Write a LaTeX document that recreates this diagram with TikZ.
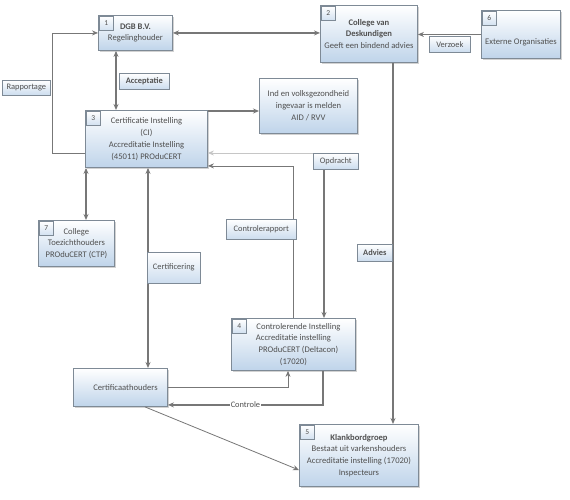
\documentclass[tikz,border=0pt]{standalone}
\usepackage{fontspec}
\setmainfont{Carlito}
\usetikzlibrary{calc,shadows,arrows.meta}
\definecolor{txt}{HTML}{505050}
\definecolor{ln}{HTML}{777777}
\definecolor{bd}{HTML}{7E8A96}
\definecolor{fillb}{HTML}{BFD4EA}
\tikzset{
  box/.style={draw=bd, line width=0.9pt, top color=white, bottom color=fillb,
    drop shadow={shadow xshift=1.5pt, shadow yshift=-1.5pt, opacity=0.35, fill=gray},
    inner sep=0pt, align=center, text=txt, font=\fontsize{8.6}{11.8}\selectfont, anchor=north west},
  numtag/.style={draw=bd, line width=0.6pt, top color=white, bottom color=fillb!70,
    minimum size=14pt, inner sep=0pt, text=txt, font=\fontsize{7.5}{9}\selectfont, anchor=north west},
  lab/.style={draw=bd, line width=0.6pt, top color=white, bottom color=fillb!80,
    drop shadow={shadow xshift=1pt, shadow yshift=-1pt, opacity=0.3, fill=gray},
    inner sep=0pt, text=txt, font=\fontsize{8.4}{10}\selectfont, anchor=north west},
  tip/.style={-{Stealth[length=6pt,width=5pt]}},
  tips/.style={{Stealth[length=6pt,width=5pt]}-{Stealth[length=6pt,width=5pt]}},
  heavy/.style={draw=ln, line width=1.8pt},
  medium/.style={draw=ln, line width=1.3pt},
  light/.style={draw=ln, line width=0.8pt},
  faint/.style={draw=gray!45, line width=0.8pt},
}
\begin{document}
\begin{tikzpicture}[x=1pt,y=-1pt]
\useasboundingbox[fill=white] (0,0) rectangle (570,500);

% boxes
\node[box, minimum width=74pt, minimum height=35pt] (b1) at (98,15) {\textbf{DGB B.V.}\\Regelinghouder};
\node[numtag] (n1) at (99,16) {1};
\node[box, minimum width=97pt, minimum height=57pt] (b2) at (320,5) {\textbf{College van}\\\textbf{Deskundigen}\\Geeft een bindend advies};
\node[numtag] (n2) at (321,6) {2};
\node[box, minimum width=79pt, minimum height=48pt] (b6) at (481,10) {};
\node[text=txt, font=\fontsize{8.6}{10}\selectfont] (t6) at (521,42) {Externe Organisaties};
\node[numtag] (n6) at (482,11) {6};
\node[box, minimum width=122pt, minimum height=57pt] (b3) at (85,110) {Certificatie Instelling\\(CI)\\Accreditatie Instelling\\(45011) PROduCERT};
\node[numtag] (n3) at (86,111) {3};
\node[box, minimum width=98pt, minimum height=55pt] (bI) at (259,78) {Ind en volksgezondheid\\ingevaar is melden\\AID / RVV};
\node[box, minimum width=76pt, minimum height=46pt] (b7) at (38,220) {College\\Toezichthouders\\PROduCERT (CTP)};
\node[numtag] (n7) at (39,221) {7};
\node[box, minimum width=124pt, minimum height=52pt] (b4) at (231,318) {\hspace*{10pt}Controlerende Instelling\\Accreditatie instelling\\\hspace*{10pt}PROduCERT (Deltacon)\\(17020)};
\node[numtag] (n4) at (232,319) {4};
\node[box, minimum width=94pt, minimum height=38pt] (bC) at (73,368) {\hspace*{10pt}Certificaathouders};
\node[box, minimum width=119pt, minimum height=62pt] (b5) at (299,424) {\textbf{Klankbordgroep}\\Bestaat uit varkenshouders\\Accreditatie instelling (17020)\\Inspecteurs};
\node[numtag] (n5) at (300,425) {5};

% helper coordinates
\coordinate (cI) at ($(b3.north east)+(0,1)$);
\coordinate (cOp) at ($(b3.north east)+(0,43)$);

% connectors
\draw[heavy, tips] (b1.east) -- (b1.east -| b2.west);
\draw[light, tip] (b6.west) -- (b6.west -| b2.east);
\draw[heavy, tips] ($(b1.south west)+(18,0)$) -- ($(b3.north west)+(31,0)$);
\draw[light, tip] ($(b3.north west)+(0,43)$) -- ++(-33,0) |- (b1.west);
\draw[medium, tip] (cI) -- (cI -| bI.west);
\draw[heavy, tip] ($(b2.south west)+(73,0)$) -- ($(b5.north west)+(94,0)$);
\draw[heavy, tips] ($(b3.south west)+(1,0)$) -- ($(b7.north west)+(48,0)$);
\draw[heavy, tips] ($(b3.south west)+(63,0)$) -- ($(bC.north west)+(75,0)$);
\draw[light, tip] ($(b4.north west)+(62,0)$) |- ($(b3.south east)+(0,-2)$);
\draw[light, tip] ($(bC.north east)+(0,19)$) -| ($(b4.south west)+(57,0)$);
\draw[medium, tip] ($(b4.south west)+(92,0)$) |- ($(bC.south east)+(0,-2)$)
  node[pos=0.75, fill=white, inner sep=1pt, text=txt, font=\fontsize{8.4}{10}\selectfont] (lCo) {Controle};
\draw[light, tip] ($(bC.south west)+(72,0)$) -- ($(b5.north west)+(0,46)$);

% labels
\node[lab, minimum width=50pt, minimum height=16pt] (lAc) at (119,73) {\textbf{Acceptatie}};
\node[lab, minimum width=48pt, minimum height=15pt] (lRa) at (2,80) {Rapportage};
\node[lab, minimum width=41pt, minimum height=16pt] (lVe) at (429,36) {Verzoek};
\node[lab, minimum width=45pt, minimum height=16pt] (lOp) at (313,153) {Opdracht};
\node[lab, minimum width=70pt, minimum height=20pt] (lCr) at (226,219) {Controlerapport};
\node[lab, minimum width=53pt, minimum height=31pt] (lCe) at (147,252) {Certificering};
\node[lab, minimum width=35pt, minimum height=17pt] (lAd) at (357,244) {\textbf{Advies}};

\draw[faint, tip] (lOp.north west) -- (cOp);
\draw[heavy, tip] ($(lOp.south west)+(11,0)$) -- ($(b4.north west)+(93,0)$);
\end{tikzpicture}
\end{document}
